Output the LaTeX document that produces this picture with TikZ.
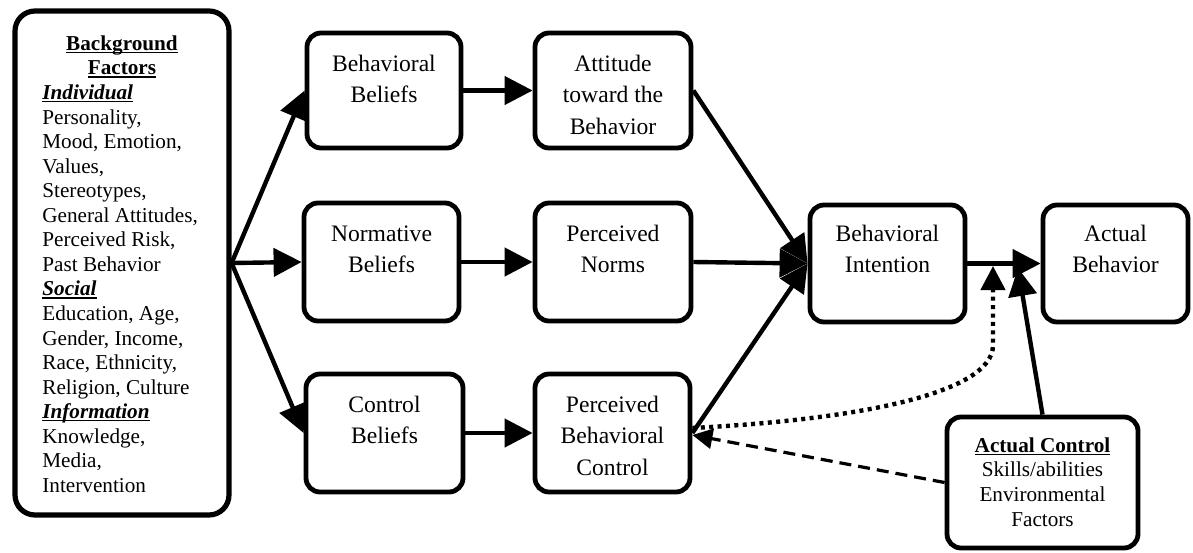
\documentclass[tikz,border=0pt]{standalone}
\usepackage{fontspec}
\setmainfont{Liberation Serif}
\usetikzlibrary{arrows.meta}
\newcommand{\myul}[1]{\setbox0\hbox{#1}\rlap{\rule[-1.3pt]{\wd0}{0.65pt}}\box0}
\begin{document}
\begin{tikzpicture}[x=0.5pt,y=-0.5pt,
 box/.style={draw,line width=2.4pt,rounded corners=7pt,inner sep=0pt},
 boxtext/.style={anchor=north,inner sep=0pt,align=center,font=\fontsize{11.8}{15.75}\selectfont},
 smalltext/.style={inner sep=0pt,font=\fontsize{10.6}{12.28}\selectfont},
 arr/.style={line width=2.2pt,-{Triangle[length=14pt,width=14pt]}},
 dotarr/.style={line width=2.2pt,dash pattern=on 2pt off 2.2pt,-{Triangle[length=12pt,width=12pt]}},
 dasharr/.style={line width=1.6pt,dash pattern=on 6pt off 3.5pt,-{Triangle[length=10pt,width=10pt]}}]
\useasboundingbox (0,0) rectangle (1193,552);
% boxes
\node[box,line width=2.6pt,rounded corners=10pt,minimum width=107pt,minimum height=252pt] (bg) at (122,263) {};
\node[box,minimum width=77pt,minimum height=57.5pt] (bb) at (384,90.5) {};
\node[box,minimum width=78pt,minimum height=57.5pt] (att) at (613,90.5) {};
\node[box,minimum width=77.5pt,minimum height=59pt] (nb) at (381.5,262) {};
\node[box,minimum width=78pt,minimum height=59pt] (pn) at (613,262) {};
\node[box,minimum width=78.5pt,minimum height=59pt] (cb) at (384.5,433) {};
\node[box,minimum width=77.5pt,minimum height=59pt] (pbc) at (612.5,433) {};
\node[box,minimum width=77.5pt,minimum height=58.5pt] (bi) at (887.5,263.5) {};
\node[box,minimum width=72.5pt,minimum height=58.5pt] (ab) at (1115.5,263.5) {};
\node[box,minimum width=95.5pt,minimum height=65.5pt] (ac) at (1042.5,482.5) {};
% texts
\node[smalltext,anchor=north,align=center] (bgh) at (122,32.8) {\strut\myul{\textbf{Background}}\\\myul{\textbf{Factors}}};
\node[smalltext,anchor=north west,align=left] (bgl) at (42,81.9) {\strut\myul{\textbf{\textit{Individual}}}\\Personality,\\Mood, Emotion,\\Values,\\Stereotypes,\\General Attitudes,\\Perceived Risk,\\Past Behavior\\\myul{\textbf{\textit{Social}}}\\Education, Age,\\Gender, Income,\\Race, Ethnicity,\\Religion, Culture\\\myul{\textbf{\textit{Information}}}\\Knowledge,\\Media,\\Intervention};
\node[boxtext] (bbt) at (384,49) {\strut Behavioral\\Beliefs};
\node[boxtext] (attt) at (613,49) {\strut Attitude\\toward the\\Behavior};
\node[boxtext] (nbt) at (381.5,219) {\strut Normative\\Beliefs};
\node[boxtext] (pnt) at (613,219) {\strut Perceived\\Norms};
\node[boxtext] (cbt) at (384.5,390) {\strut Control\\Beliefs};
\node[boxtext] (pbct) at (612.5,390) {\strut Perceived\\Behavioral\\Control};
\node[boxtext] (bit) at (887.5,219) {\strut Behavioral\\Intention};
\node[boxtext] (abt) at (1115.5,219) {\strut Actual\\Behavior};
\node[smalltext,anchor=north,align=center] (act) at (1042.5,434.8) {\strut\myul{\textbf{Actual Control}}\\Skills/abilities\\Environmental\\Factors};
% connectors
\draw[arr] (bg.east) -- (bb.west);
\draw[arr] (bg.east) -- (nb.west);
\draw[arr] (bg.east) -- (cb.west);
\draw[arr] (bb.east) -- (att.west);
\draw[arr] (nb.east) -- (pn.west);
\draw[arr] (cb.east) -- (pbc.west);
\draw[arr] (att.east) -- (bi.west);
\draw[arr] (pn.east) -- (bi.west);
\draw[arr] (pbc.east) -- (bi.west);
\draw[arr] (bi.east) -- (ab.west);
\coordinate (acend) at (1018,268);
\draw[arr] (ac.north) -- (acend);
\coordinate (dotend) at (993,266);
\draw[dotarr] ([yshift=2.5pt]pbc.east) .. controls (850,420) and (993,395) .. (993,345) -- (dotend);
\draw[dasharr] (ac.west) -- ([yshift=-1pt]pbc.east);
\end{tikzpicture}
\end{document}
